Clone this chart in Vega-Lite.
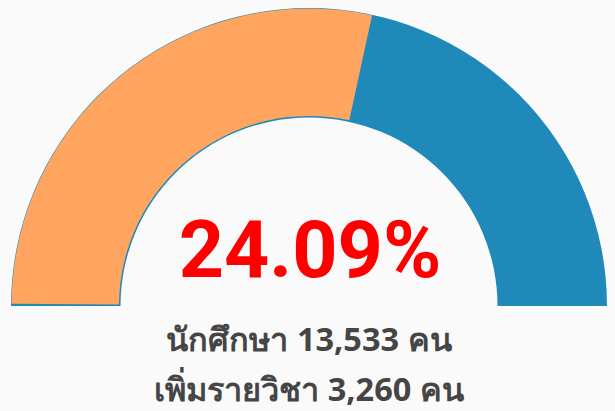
{
  "$schema": "https://vega.github.io/schema/vega-lite/v6.json",
  "width": 615,
  "height": 411,
  "autosize": {"type": "fit", "contains": "padding"},
  "padding": 0,
  "background": "#fafafa",
  "config": {"view": {"stroke": null}},
  "datasets": {
    "arcs": [
      {"part": "ทั้งหมด", "start": 0, "end": 100, "cx": 0, "cy": 0},
      {"part": "นักศึกษา", "start": 0.25, "end": 56.8, "cx": 0, "cy": 0}
    ],
    "labels": [
      {"label": "24.09%", "kind": "big", "cx": 0.0034, "cy": 0.0975},
      {"label": "นักศึกษา 13,533 คน", "kind": "small", "cx": 0.0, "cy": -0.1513},
      {"label": "เพิ่มรายวิชา 3,260 คน", "kind": "small", "cx": 0.0, "cy": -0.3193}
    ]
  },
  "encoding": {
    "x": {"field": "cx", "type": "quantitative", "scale": {"domain": [-1.0387, 1.0286], "nice": false, "zero": false}, "axis": null},
    "y": {"field": "cy", "type": "quantitative", "scale": {"domain": [-0.3529, 1.0286], "nice": false, "zero": false}, "axis": null}
  },
  "layer": [
    {
      "data": {"name": "arcs"},
      "transform": [{"filter": "datum.part === 'ทั้งหมด'"}],
      "mark": {"type": "arc", "radius": 298, "radius2": 188.5, "color": "#1F89B9"},
      "encoding": {
        "theta": {"field": "start", "type": "quantitative", "stack": null, "scale": {"domain": [0, 100], "range": [-1.5707963, 1.5707963]}},
        "theta2": {"field": "end"}
      }
    },
    {
      "data": {"name": "arcs"},
      "transform": [{"filter": "datum.part === 'นักศึกษา'"}],
      "mark": {"type": "arc", "radius": 297.5, "radius2": 190, "color": "#FFA55F"},
      "encoding": {
        "theta": {"field": "start", "type": "quantitative", "stack": null, "scale": {"domain": [0, 100], "range": [-1.5707963, 1.5707963]}},
        "theta2": {"field": "end"}
      }
    },
    {
      "data": {"name": "labels"},
      "transform": [{"filter": "datum.kind === 'big'"}],
      "mark": {"type": "text", "font": "Roboto", "fontWeight": "bold", "fontSize": 79, "color": "#FF0000", "align": "center", "baseline": "alphabetic"},
      "encoding": {"text": {"field": "label"}}
    },
    {
      "data": {"name": "labels"},
      "transform": [{"filter": "datum.kind === 'small'"}],
      "mark": {"type": "text", "font": "Noto Sans", "fontWeight": "bold", "fontSize": 32.5, "color": "#454545", "align": "center", "baseline": "alphabetic"},
      "encoding": {"text": {"field": "label"}}
    }
  ]
}
